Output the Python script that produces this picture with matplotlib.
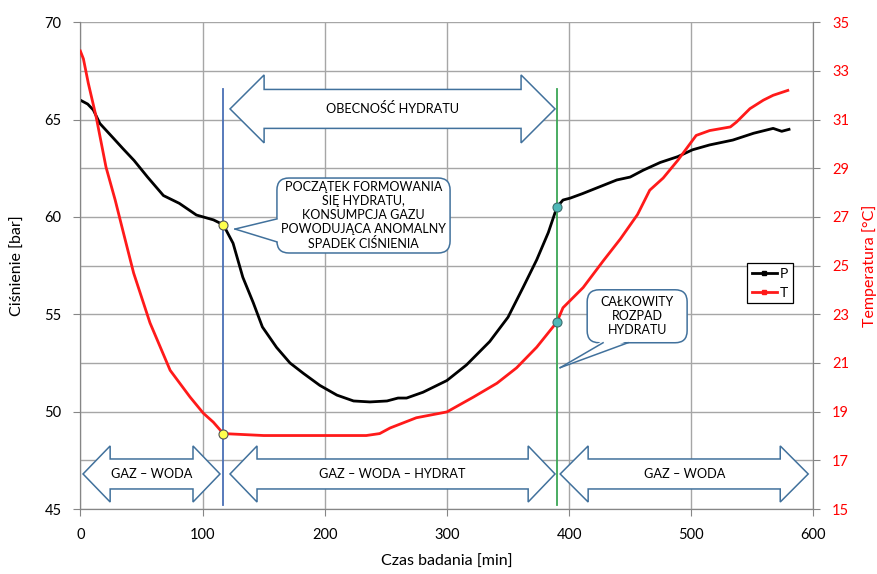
import numpy as np
import matplotlib.pyplot as plt
from matplotlib.patches import Polygon, FancyBboxPatch
from matplotlib.lines import Line2D

plt.rcParams['font.family'] = ['Lato', 'DejaVu Sans']

# --- dane ---
# cisnienie P [bar] w funkcji czasu [min]
t_p = [0, 6, 10.6, 16, 27, 35, 44, 55, 68, 81, 95, 109, 117,
       125, 133, 141.5, 149, 160.6, 171.6, 182.5, 196, 210, 223.6, 237, 251,
       260, 267, 280.5, 300, 316, 335, 350, 362.5, 373.5, 383, 390,
       395, 401, 411, 425, 439, 450, 460.6, 474.6, 489, 501, 515, 534,
       551, 567, 574, 580]
p_bar = [66.0, 65.8, 65.5, 64.8, 64.05, 63.5, 62.9, 62.05, 61.1, 60.7, 60.1, 59.85, 59.6,
         58.65, 56.9, 55.6, 54.35, 53.3, 52.5, 51.97, 51.35, 50.85, 50.55, 50.5, 50.55,
         50.7, 50.7, 51.0, 51.6, 52.4, 53.6, 54.85, 56.4, 57.8, 59.2, 60.5,
         60.87, 60.97, 61.2, 61.55, 61.9, 62.05, 62.4, 62.8, 63.1, 63.45, 63.7, 63.95,
         64.3, 64.55, 64.4, 64.5]

# temperatura T [C]
t_t = [0, 2.5, 6.5, 13, 21, 28.5, 34, 43.6, 57, 73.5, 89.8, 100.6, 108.8, 117,
       150, 200, 234, 245, 253.5, 275, 300, 321.7, 341, 357, 373.5, 390,
       395, 411.5, 428, 442, 456, 466, 477, 489, 504, 515, 532, 537, 548,
       559, 567, 579]
temp_c = [33.82, 33.5, 32.5, 31.1, 29.05, 27.7, 26.6, 24.7, 22.65, 20.7, 19.6, 18.94, 18.57, 18.1,
          18.02, 18.02, 18.02, 18.1, 18.33, 18.75, 18.99, 19.6, 20.17, 20.8, 21.65, 22.68,
          23.27, 24.1, 25.2, 26.1, 27.1, 28.1, 28.6, 29.33, 30.35, 30.55, 30.7, 30.9, 31.45,
          31.8, 32.0, 32.2]

# punkty charakterystyczne
t_start, p_start, temp_start = 117, 59.6, 18.1
t_end, p_end, temp_end = 390, 60.5, 22.68

x_ticks = [0, 100, 200, 300, 400, 500, 600]
p_ticks = [45, 50, 55, 60, 65, 70]
temp_ticks = [15, 17, 19, 21, 23, 25, 27, 29, 31, 33, 35]

edge_blue = '#41719c'
grid_col = '#a6a6a6'

fig = plt.figure(figsize=(8.78, 5.74), dpi=100)
ax = fig.add_axes([0.0915, 0.1132, 0.835, 0.848])
ax2 = ax.twinx()

ax.set_xlim(0, 600)
ax.set_ylim(45, 70)
ax2.set_ylim(15, 35)
ax.set_xticks(x_ticks)
ax.set_yticks(p_ticks)
ax.set_yticks(np.arange(47.5, 70, 5), minor=True)
ax2.set_yticks(temp_ticks)

ax.grid(True, which='both', color=grid_col, lw=1.0)
ax.set_axisbelow(True)
ax.tick_params(which='minor', length=0)
ax.tick_params(which='major', length=5, color='#868686', pad=8.5, labelsize=10.5)
ax2.tick_params(length=5, color='#868686', pad=8.5, labelsize=10.5, labelcolor='#ff0000')
for a in (ax, ax2):
    for s in a.spines.values():
        s.set_color('#868686')
    a.spines['top'].set_visible(False)

ax.set_xlabel('Czas badania [min]', fontsize=11.5)
ax.set_ylabel('Ciśnienie [bar]', fontsize=11.5)
ax2.set_ylabel('Temperatura [°C]', fontsize=11.5, color='#ff0000')
ax.xaxis.set_label_coords(0.5, -0.094)
ax.yaxis.set_label_coords(-0.075, 0.5)
ax2.yaxis.set_label_coords(1.066, 0.5)

ax.plot(t_p, p_bar, color='black', lw=2.0, zorder=3)
ax2.plot(t_t, temp_c, color='#ff1a1a', lw=2.0, zorder=3)

# linie poczatku i konca obecnosci hydratu
ax2.plot([t_start, t_start], [45.2, 66.57], color='#4a6fb5', lw=1.3,
         transform=ax.transData, zorder=4)
ax2.plot([t_end, t_end], [45.2, 66.57], color='#3aa655', lw=1.3,
         transform=ax.transData, zorder=4)


def block_arrow(xl, xbl, xbr, xr, yc, shaft, head, text):
    pts = [(xl, yc), (xbl, yc + head), (xbl, yc + shaft), (xbr, yc + shaft),
           (xbr, yc + head), (xr, yc), (xbr, yc - head), (xbr, yc - shaft),
           (xbl, yc - shaft), (xbl, yc - head)]
    ax2.add_patch(Polygon(pts, closed=True, facecolor='white', edgecolor=edge_blue,
                          lw=1.1, transform=ax.transData, zorder=5))
    ax2.text((xl + xr) / 2, yc, text, ha='center', va='center', fontsize=9.2,
             transform=ax.transData, zorder=6)


block_arrow(122.5, 150.4, 360.7, 388.5, 65.55, 1.0, 1.745, 'OBECNOŚĆ HYDRATU')
block_arrow(2.2, 24.4, 92.2, 114.3, 46.8, 0.77, 1.44, 'GAZ – WODA')
block_arrow(122.5, 144.6, 366.5, 388.5, 46.8, 0.77, 1.44, 'GAZ – WODA – HYDRAT')
block_arrow(392.7, 415.6, 572.8, 595.7, 46.8, 0.77, 1.44, 'GAZ – WODA')


def callout(x0, x1, y0, y1, tip, base1, base2, inner1, inner2, text):
    box = FancyBboxPatch((x0, y0), x1 - x0, y1 - y0,
                         boxstyle='round,pad=0,rounding_size=9.8', mutation_aspect=0.0628,
                         facecolor='white', edgecolor=edge_blue, lw=1.1,
                         transform=ax.transData, zorder=5)
    ax2.add_patch(box)
    ax2.add_patch(Polygon([tip, inner1, inner2], closed=True, facecolor='white',
                          edgecolor='none', transform=ax.transData, zorder=6))
    for b in (base1, base2):
        ax2.plot([tip[0], b[0]], [tip[1], b[1]], color=edge_blue, lw=1.1,
                 transform=ax.transData, zorder=7)
    ax2.text((x0 + x1) / 2, (y0 + y1) / 2, text, ha='center', va='center',
             fontsize=9.0, linespacing=1.2, transform=ax.transData, zorder=8)


callout(160.9, 302.6, 58.15, 62.0, (126.6, 59.38), (160.9, 59.9), (160.9, 58.72),
        (163.5, 59.95), (163.5, 58.67),
        'POCZĄTEK FORMOWANIA\nSIĘ HYDRATU,\nKONSUMPCJA GAZU\nPOWODUJĄCA ANOMALNY\nSPADEK CIŚNIENIA')
callout(414.8, 496.6, 53.54, 56.26, (392.7, 52.26), (427.8, 53.54), (448.2, 53.54),
        (427.5, 53.65), (448.5, 53.65),
        'CAŁKOWITY\nROZPAD\nHYDRATU')

# punkty charakterystyczne
ax2.plot([t_start], [temp_start], 'o', ms=6.5, mfc='#ffff4d', mec='#555555', mew=0.8, zorder=9)
ax2.plot([t_end], [temp_end], 'o', ms=6.5, mfc='#4fb8b8', mec='#3b6c6c', mew=0.8, zorder=9)
ax2.plot([t_start], [p_start], 'o', ms=6.5, mfc='#ffff4d', mec='#555555', mew=0.8,
         transform=ax.transData, zorder=9)
ax2.plot([t_end], [p_end], 'o', ms=6.5, mfc='#4fb8b8', mec='#3b6c6c', mew=0.8,
         transform=ax.transData, zorder=9)

handles = [Line2D([], [], color='black', lw=2, marker='s', ms=2.5),
           Line2D([], [], color='#ff1a1a', lw=2, marker='s', ms=2.5)]
leg = ax2.legend(handles, ['P', 'T'], loc='upper left', bbox_to_anchor=(0.909, 0.506),
                 fancybox=False, edgecolor='black', framealpha=1, fontsize=10,
                 handlelength=1.8, handletextpad=0.2, borderpad=0.35,
                 labelspacing=0.5, borderaxespad=0)
leg.get_frame().set_linewidth(0.9)
leg.set_zorder(10)

fig.savefig('out.png', dpi=100)
